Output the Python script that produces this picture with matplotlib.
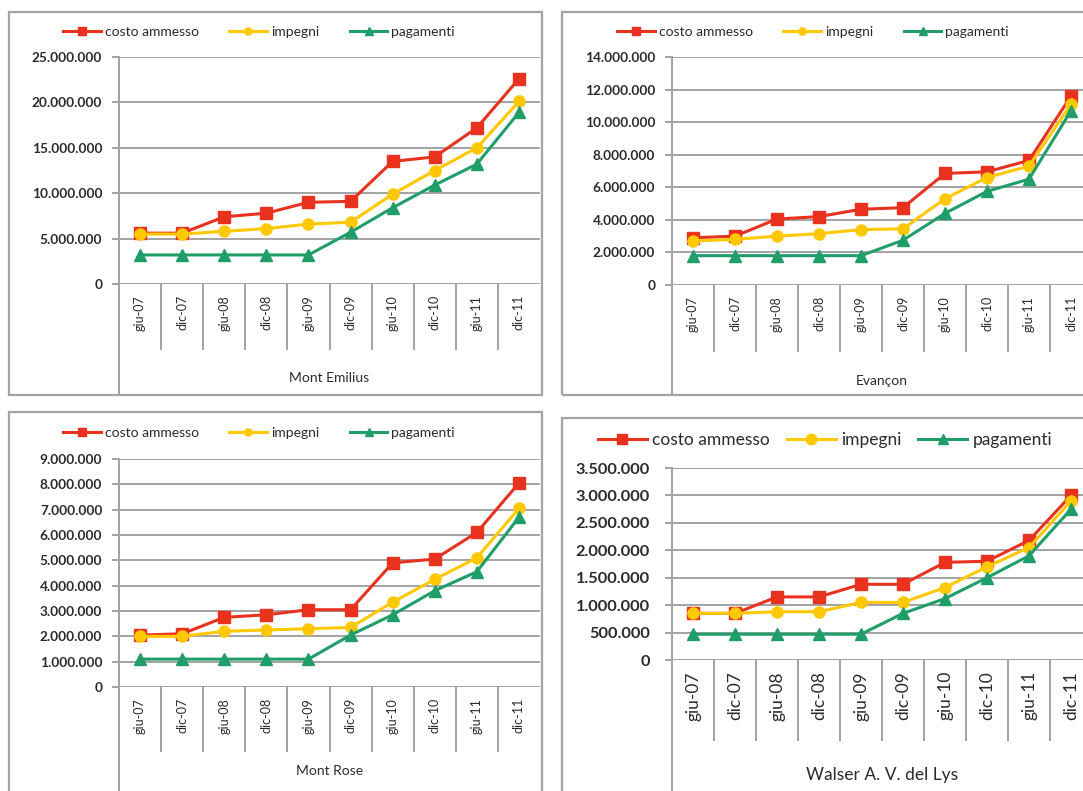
import matplotlib.pyplot as plt
import numpy as np
from matplotlib.lines import Line2D
from matplotlib.patches import Rectangle
from matplotlib.ticker import FuncFormatter, MultipleLocator

W, H = 1083, 791

periodi = ["giu-07", "dic-07", "giu-08", "dic-08", "giu-09",
           "dic-09", "giu-10", "dic-10", "giu-11", "dic-11"]
serie = ["costo ammesso", "impegni", "pagamenti"]

emilius_costo = [5600000, 5600000, 7400000, 7800000, 9000000,
                 9100000, 13500000, 14000000, 17200000, 22600000]
emilius_impegni = [5500000, 5500000, 5800000, 6100000, 6600000,
                   6800000, 9900000, 12500000, 15000000, 20100000]
emilius_pagamenti = [3200000, 3200000, 3200000, 3200000, 3200000,
                     5700000, 8400000, 10900000, 13200000, 18900000]

evancon_costo = [2900000, 3000000, 4050000, 4200000, 4650000,
                 4750000, 6850000, 6950000, 7650000, 11600000]
evancon_impegni = [2700000, 2800000, 3000000, 3150000, 3400000,
                   3450000, 5300000, 6600000, 7300000, 11100000]
evancon_pagamenti = [1800000, 1800000, 1800000, 1800000, 1800000,
                     2750000, 4400000, 5750000, 6500000, 10700000]

rose_costo = [2050000, 2100000, 2750000, 2850000, 3050000,
              3050000, 4900000, 5050000, 6100000, 8050000]
rose_impegni = [2000000, 2000000, 2200000, 2250000, 2300000,
                2350000, 3350000, 4250000, 5100000, 7050000]
rose_pagamenti = [1100000, 1100000, 1100000, 1100000, 1100000,
                  2050000, 2850000, 3800000, 4550000, 6700000]

walser_costo = [850000, 850000, 1150000, 1150000, 1380000,
                1380000, 1780000, 1800000, 2180000, 3000000]
walser_impegni = [850000, 850000, 880000, 880000, 1050000,
                  1050000, 1320000, 1700000, 2050000, 2900000]
walser_pagamenti = [470000, 470000, 470000, 470000, 470000,
                    850000, 1120000, 1500000, 1900000, 2750000]

colori = ["#e8321e", "#ffc800", "#1f9e6a"]
marcatori = ["s", "o", "^"]
GRIGIO = "#a3a3a3"
TESTO = "#2b2b2b"

plt.rcParams["font.family"] = ["Lato", "DejaVu Sans"]


def fx(px):
    return px / W


def fy(py):
    return 1 - py / H


def thousands(v, _pos):
    return f"{int(round(v)):,}".replace(",", ".")


def draw_panel(fig, name, values, box, plot, ymax, step, sep_bottom,
               label_y, legend_xy, sizes):
    tick_fs, tick_pad, cat_fs, leg_fs, name_fs, leg_hl, leg_cs, leg_ms = sizes
    bl, bt, br, bb = box
    fig.add_artist(Rectangle((fx(bl), fy(bb)), fx(br - bl), (bb - bt) / H,
                             transform=fig.transFigure, fill=False,
                             edgecolor=GRIGIO, lw=1.6))

    l, r, t, b = plot
    ax = fig.add_axes([fx(l), fy(b), fx(r - l), (b - t) / H])
    x = np.arange(len(periodi))
    for vals, lab, c, m in zip(values, serie, colori, marcatori):
        ax.plot(x, vals, color=c, marker=m, markersize=8, lw=2.2,
                label=lab, clip_on=False)

    ax.set_xlim(-0.5, len(periodi) - 0.5)
    ax.set_ylim(0, ymax)
    ax.yaxis.set_major_locator(MultipleLocator(step))
    ax.yaxis.set_major_formatter(FuncFormatter(thousands))
    ax.grid(axis="y", color=GRIGIO, lw=1.4)
    ax.set_axisbelow(True)
    for s in ["top", "right", "bottom"]:
        ax.spines[s].set_visible(False)
    ax.spines["left"].set_color(GRIGIO)
    ax.spines["left"].set_linewidth(1.4)
    ax.tick_params(axis="y", length=5, width=1.4, color=GRIGIO, pad=tick_pad,
                   labelsize=tick_fs, labelcolor=TESTO)
    for lab in ax.get_yticklabels():
        lab.set_fontweight("bold")

    ax.set_xticks(x)
    ax.set_xticklabels(periodi, rotation=90, fontsize=cat_fs, color=TESTO)
    ax.set_xticks(np.arange(0.5, len(periodi) - 1), minor=True)
    ax.tick_params(axis="x", which="major", length=0, pad=8)
    ax.tick_params(axis="x", which="minor", length=(sep_bottom - b) * 0.72,
                   width=1.4, color=GRIGIO)

    fig.add_artist(Line2D([fx(l), fx(l)], [fy(t), fy(bb)],
                          transform=fig.transFigure, color=GRIGIO, lw=1.4))
    fig.text(fx((l + r) / 2), fy(label_y), name, ha="center", va="center",
             fontsize=name_fs, color=TESTO)

    ax.legend(loc="center left", bbox_to_anchor=(fx(legend_xy[0]), fy(legend_xy[1])),
              bbox_transform=fig.transFigure, ncol=3, frameon=False,
              borderpad=0, borderaxespad=0, handlelength=leg_hl,
              handletextpad=0.3, columnspacing=leg_cs, fontsize=leg_fs,
              labelcolor=TESTO, markerscale=leg_ms)
    return ax


fig = plt.figure(figsize=(W / 100, H / 100), dpi=100)

# tick size, tick pad, category size, legend size, name size,
# legend handle length, column spacing, legend marker scale
small = (9.8, 7, 9, 10, 10, 2.7, 2.2, 0.65)
big = (11.8, 11, 12.5, 12.5, 12.5, 2.8, 1.0, 0.95)

draw_panel(fig, "Mont Emilius",
           [emilius_costo, emilius_impegni, emilius_pagamenti],
           (9, 12, 542, 395), (119, 540, 57, 284), 25000000, 5000000,
           350, 378, (63, 32), small)
draw_panel(fig, "Evançon",
           [evancon_costo, evancon_impegni, evancon_pagamenti],
           (562, 12, 1100, 395), (672, 1092, 57, 285), 14000000, 2000000,
           352, 381, (617, 32), small)
draw_panel(fig, "Mont Rose",
           [rose_costo, rose_impegni, rose_pagamenti],
           (9, 412, 542, 800), (119, 540, 459, 687), 9000000, 1000000,
           752, 771, (63, 433), small)
draw_panel(fig, "Walser A. V. del Lys",
           [walser_costo, walser_impegni, walser_pagamenti],
           (562, 418, 1100, 800), (672, 1092, 468, 660), 3500000, 500000,
           741, 775, (598, 440), big)

fig.savefig("out.png", dpi=100)
plt.close(fig)
